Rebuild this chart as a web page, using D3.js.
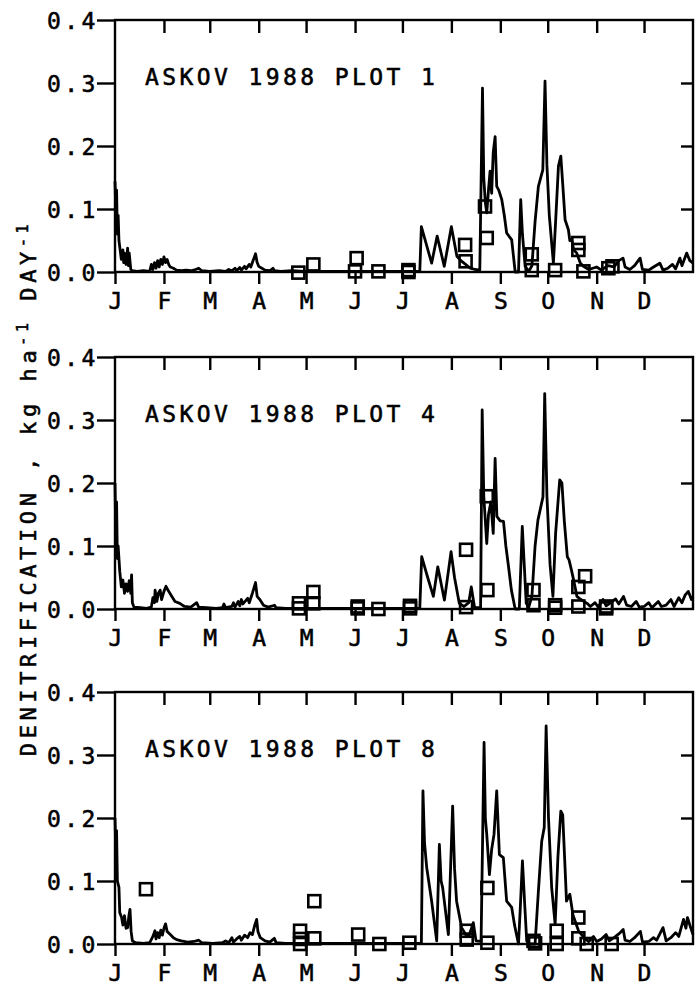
<!DOCTYPE html>
<html>
<head>
<meta charset="utf-8">
<script src="https://cdn.jsdelivr.net/npm/d3@7"></script>
<style>
  html, body { margin: 0; padding: 0; background: #fff; }
  svg { display: block; }
  text { font-family: "DejaVu Sans Mono", "Liberation Mono", monospace; fill: #000; stroke: #000; stroke-width: 0.55px; }
</style>
</head>
<body>
<svg id="chart" width="697" height="990"></svg>
<script>
// ---------- data ----------
const monthStarts = [0, 31, 60, 91, 121, 152, 182, 213, 244, 274, 305, 335];
const monthLabels = ["J", "F", "M", "A", "M", "J", "J", "A", "S", "O", "N", "D"];
const yTicks = [0, 0.1, 0.2, 0.3, 0.4];
const panelTitles = ["ASKOV 1988 PLOT 1", "ASKOV 1988 PLOT 4", "ASKOV 1988 PLOT 8"];

// simulated daily denitrification [day of year, kg ha-1 day-1]
const simPlot1 = [[0,0.144],[0.5,0.1],[1,0.13],[1.5,0.06],[2,0.09],[2.5,0.05],[3,0.04],[4,0.02],[5,0.035],[5.5,0.015],[6,0.03],[7,0.012],[8,0.038],[8.5,0.01],[9,0.03],[10,0.004],[11,0.002],[14,0.001],[18,0.002],[22,0.001],[23,0.012],[24,0.004],[25,0.015],[26,0.006],[27,0.018],[28,0.008],[29,0.02],[30,0.012],[31,0.024],[32,0.015],[33,0.02],[34,0.012],[35,0.008],[37,0.006],[39,0.003],[42,0.002],[45,0.003],[48,0.002],[51,0.004],[53,0.006],[55,0.002],[60,0.001],[66,0.002],[70,0.001],[72,0.004],[74,0.002],[76,0.006],[77,0.002],[79,0.007],[80,0.003],[82,0.009],[83,0.005],[85,0.012],[86,0.008],[87,0.015],[88,0.022],[89,0.029],[90,0.015],[91,0.009],[93,0.006],[95,0.003],[98,0.002],[100,0.006],[101,0.002],[105,0.001],[112,0.002],[120,0.001],[130,0.001],[150,0.001],[170,0.001],[193,0.001],[194,0.072],[200.5,0.014],[204,0.057],[208.5,0.009],[213,0.072],[216.5,0.025],[219,0.018],[222,0.012],[225,0.006],[228,0.004],[231,0.003],[232.7,0.292],[233.5,0.15],[234.5,0.11],[235.4,0.094],[236.5,0.13],[237.5,0.16],[238.5,0.125],[239.5,0.19],[240.7,0.215],[241.7,0.136],[243,0.13],[244.9,0.115],[246.5,0.09],[248,0.062],[251.2,0.051],[253.4,0.0],[255.5,0.0],[256.9,0.115],[258,0.06],[259.7,0.009],[262,0.001],[264,0.01],[266,0.08],[268.1,0.136],[270.9,0.162],[272.3,0.303],[273.5,0.17],[275,0.09],[277.6,0.014],[279,0.08],[280.8,0.168],[282.3,0.184],[283.5,0.14],[285,0.083],[287.1,0.067],[288,0.05],[289.2,0.051],[290.5,0.035],[292.4,0.03],[294.5,0.015],[296.6,0.009],[300,0.004],[305,0.008],[308,0.003],[312,0.01],[316,0.008],[319,0.018],[321.7,0.022],[323,0.008],[326,0.004],[329,0.01],[332.5,0.022],[334,0.004],[338,0.003],[341,0.008],[345,0.014],[347,0.003],[350,0.006],[353,0.012],[355,0.005],[357.7,0.022],[359,0.01],[362,0.03],[364,0.018],[366,0.014]];

const simPlot4 = [[0,0.2],[0.5,0.12],[1,0.17],[1.5,0.08],[2,0.1],[3,0.06],[4,0.035],[5,0.046],[6,0.025],[7,0.04],[8,0.028],[9,0.045],[10,0.025],[10.5,0.054],[11,0.01],[12,0.003],[16,0.002],[20,0.001],[23,0.003],[24,0.018],[25,0.01],[25.4,0.03],[26.5,0.012],[27.5,0.025],[28.6,0.03],[29.5,0.015],[31,0.028],[32.3,0.036],[34,0.028],[36,0.02],[38,0.012],[41,0.009],[44,0.004],[48,0.003],[51.7,0.01],[53,0.003],[58,0.002],[64,0.001],[68,0.002],[69,0.008],[70,0.002],[74,0.004],[75,0.01],[76,0.003],[78,0.012],[79,0.005],[80,0.015],[81,0.008],[84,0.017],[85,0.01],[87,0.025],[89,0.042],[90,0.02],[92,0.014],[94,0.006],[97,0.003],[101,0.006],[102,0.002],[108,0.001],[130,0.001],[160,0.001],[193,0.001],[194.2,0.083],[198,0.05],[201.6,0.02],[204.4,0.067],[208.6,0.014],[212.8,0.091],[215,0.05],[218,0.009],[221,0.004],[224,0.01],[225.6,0.035],[227.7,0.002],[231.5,0.002],[232.5,0.316],[233.5,0.18],[235.4,0.104],[236.5,0.15],[238,0.17],[239.5,0.12],[240.7,0.239],[241.8,0.147],[243.9,0.14],[246,0.139],[247.5,0.1],[249.2,0.067],[251,0.03],[253.4,0.0],[256,0.0],[257.9,0.131],[260.4,0.009],[262,0.003],[264,0.02],[266,0.1],[267.8,0.141],[271,0.178],[272.1,0.342],[273.5,0.18],[275.5,0.07],[277.3,0.02],[279,0.12],[281.6,0.205],[283,0.2],[284.5,0.14],[286.4,0.083],[287.5,0.078],[289,0.062],[290.5,0.045],[292.5,0.02],[295,0.015],[298.9,0.009],[301,0.004],[304,0.01],[306,0.003],[309,0.015],[311,0.005],[314,0.01],[317,0.016],[319,0.008],[322,0.02],[324,0.006],[327,0.004],[330,0.012],[332,0.003],[335,0.004],[338,0.01],[340,0.002],[344,0.012],[346,0.004],[349,0.006],[352,0.015],[354,0.004],[357,0.018],[359,0.01],[361,0.022],[363,0.028],[365,0.015],[366,0.02]];

const simPlot8 = [[0,0.2],[0.5,0.15],[1,0.18],[1.5,0.1],[2.5,0.09],[3,0.05],[4.2,0.042],[5,0.03],[6,0.045],[7,0.025],[8,0.026],[8.8,0.045],[9.5,0.055],[10.2,0.02],[11,0.005],[13,0.002],[18,0.001],[22,0.002],[24,0.012],[25.3,0.021],[26,0.008],[27,0.018],[28,0.01],[29,0.022],[30,0.014],[31,0.025],[32,0.032],[33,0.02],[35,0.015],[37,0.01],[39,0.007],[42,0.005],[46,0.003],[50,0.004],[53,0.006],[55,0.002],[62,0.001],[68,0.002],[70,0.005],[72,0.002],[74,0.01],[75,0.003],[77,0.008],[79,0.012],[80,0.006],[82,0.014],[84,0.01],[85.5,0.018],[87,0.015],[88.5,0.03],[89.7,0.039],[90.5,0.02],[92,0.01],[95,0.005],[98,0.003],[100.9,0.009],[102,0.002],[108,0.001],[130,0.001],[160,0.001],[194,0.001],[195,0.243],[196,0.16],[197.4,0.121],[200.5,0.068],[203.7,0.005],[205.4,0.158],[206.5,0.1],[207.5,0.089],[211.1,0.015],[213.8,0.219],[215,0.12],[216.3,0.068],[219.5,0.026],[222,0.015],[224,0.012],[226.9,0.034],[228.6,0.005],[231.8,0.004],[233.7,0.32],[234.5,0.2],[235.4,0.174],[237.1,0.11],[238.5,0.15],[240,0.174],[241.7,0.243],[243.4,0.142],[245.9,0.137],[248,0.068],[251.2,0.058],[253,0.03],[255.5,0.0],[256.5,0.05],[258,0.132],[259.5,0.06],[260.7,0.005],[263,0.0],[266,0.0],[268,0.08],[270.2,0.163],[271.8,0.185],[273,0.346],[274.5,0.2],[276.5,0.09],[278.7,0.031],[280.5,0.14],[282.3,0.211],[283.5,0.205],[285,0.12],[285.9,0.068],[288,0.079],[290,0.046],[293.5,0.021],[297.7,0.008],[300,0.004],[303,0.012],[305,0.004],[308,0.008],[311,0.015],[313,0.005],[317,0.012],[319,0.016],[321.8,0.023],[323,0.006],[326,0.004],[329,0.01],[332.7,0.02],[334,0.003],[338,0.004],[341,0.01],[343,0.006],[347,0.026],[349,0.005],[352,0.01],[355,0.018],[357,0.012],[360,0.039],[361.5,0.025],[362.5,0.042],[364,0.03],[366,0.015]];

// measured values [day of year, kg ha-1 day-1]
const obsPlot1 = [[116.1,-0.001],[125.6,0.012],[152,0.001],[153,0.022],[166.8,0.001],[185.8,0.003],[185.8,0.0],[221.7,0.043],[222,0.017],[234.3,0.104],[235.4,0.054],[263.9,0.028],[263.9,0.003],[278.7,0.003],[293.4,0.046],[293.4,0.035],[296.6,0.001],[312.4,0.006],[315,0.009]];
const obsPlot4 = [[116.5,0.009],[116.5,0.001],[125.6,0.027],[125.6,0.009],[153.7,0.004],[153.7,0.001],[166.8,0.0],[186.8,0.005],[186.8,0.001],[222.3,0.094],[222.3,0.003],[235.4,0.179],[235.8,0.03],[265,0.03],[265,0.006],[278.7,0.006],[278.7,0.002],[293.4,0.035],[293.4,0.004],[297.7,0.052],[311,0.001],[311,0.004]];
const obsPlot8 = [[19.6,0.087],[117.2,0.021],[117.2,0.008],[117.2,0.0],[126.2,0.068],[126.2,0.009],[154,0.015],[167.4,0.0],[186.4,0.002],[222.7,0.021],[222.7,0.007],[235.8,0.089],[235.8,0.002],[265,0.005],[266,0.001],[279.7,0.021],[279.7,0.0],[293.4,0.042],[293.4,0.009],[298.7,0.0],[314.5,0.0]];

const simSeries = [simPlot1, simPlot4, simPlot8];
const obsSeries = [obsPlot1, obsPlot4, obsPlot8];

// ---------- layout ----------
const svg = d3.select("#chart");
const left = 115, right = 693;
const panelTops = [20, 357, 692];
const panelH = 252;
const FS = 23, LS = 3.4;
const FONT = '"DejaVu Sans Mono", monospace';

const x = d3.scaleLinear().domain([0, 366]).range([left, right]);

function styleText(sel, spacing) {
  sel.style("font-family", FONT).style("font-size", FS + "px")
    .style("fill", "#000").style("stroke", "#000").style("stroke-width", "0.55px");
  if (spacing) sel.style("letter-spacing", LS + "px");
  return sel;
}

panelTops.forEach((top, i) => {
  const bottom = top + panelH;
  const y = d3.scaleLinear().domain([0, 0.4]).range([bottom, top]);
  const g = svg.append("g");

  g.append("rect").attr("x", left).attr("y", top)
    .attr("width", right - left).attr("height", panelH)
    .attr("fill", "none").attr("stroke", "#000").attr("stroke-width", 2.4);

  const xb = g.append("g").attr("transform", `translate(0,${bottom})`)
    .call(d3.axisBottom(x).tickValues(monthStarts).tickSize(12).tickSizeOuter(0)
      .tickFormat((d, k) => monthLabels[k]));
  const xt = g.append("g").attr("transform", `translate(0,${top})`)
    .call(d3.axisTop(x).tickValues(monthStarts.slice(1)).tickSize(-13).tickSizeOuter(0).tickFormat(""));
  const yl = g.append("g").attr("transform", `translate(${left},0)`)
    .call(d3.axisLeft(y).tickValues(yTicks).tickSize(18).tickSizeOuter(0).tickFormat(d3.format(".1f")));
  const yr = g.append("g").attr("transform", `translate(${right},0)`)
    .call(d3.axisRight(y).tickValues([0.1, 0.2, 0.3]).tickSize(-12).tickSizeOuter(0).tickFormat(""));

  [xb, xt, yl, yr].forEach(a => {
    a.select(".domain").remove();
    a.selectAll("line").attr("stroke", "#000").attr("stroke-width", 2.4);
  });
  styleText(xb.selectAll("text").attr("y", 0).attr("dy", 37), false);
  styleText(yl.selectAll("text").attr("text-anchor", "start").attr("x", 47 - left).attr("dy", 8.4), true);

  styleText(g.append("text").attr("x", 145).attr("y", top + 65), true)
    .text(panelTitles[i]);

  const line = d3.line().x(d => x(d[0])).y(d => y(d[1]));
  g.append("path").datum(simSeries[i]).attr("d", line)
    .attr("fill", "none").attr("stroke", "#000").attr("stroke-width", 2.8)
    .attr("stroke-linejoin", "round");

  const s = 12;
  g.selectAll("rect.obs").data(obsSeries[i]).join("rect").attr("class", "obs")
    .attr("x", d => x(d[0]) - s / 2).attr("y", d => y(d[1]) - s / 2)
    .attr("width", s).attr("height", s)
    .attr("fill", "none").attr("stroke", "#000").attr("stroke-width", 2.6);
});

const yt = styleText(svg.append("text")
  .attr("transform", "translate(36,488) rotate(-90)")
  .attr("text-anchor", "middle"), false)
  .style("font-size", "22px").style("letter-spacing", "4.6px");
yt.append("tspan").text("DENITRIFICATION , kg ha");
yt.append("tspan").attr("dy", -8).style("font-size", "15px").text("-1");
yt.append("tspan").attr("dy", 8).text(" DAY");
yt.append("tspan").attr("dy", -8).style("font-size", "15px").text("-1");
</script>
</body>
</html>
